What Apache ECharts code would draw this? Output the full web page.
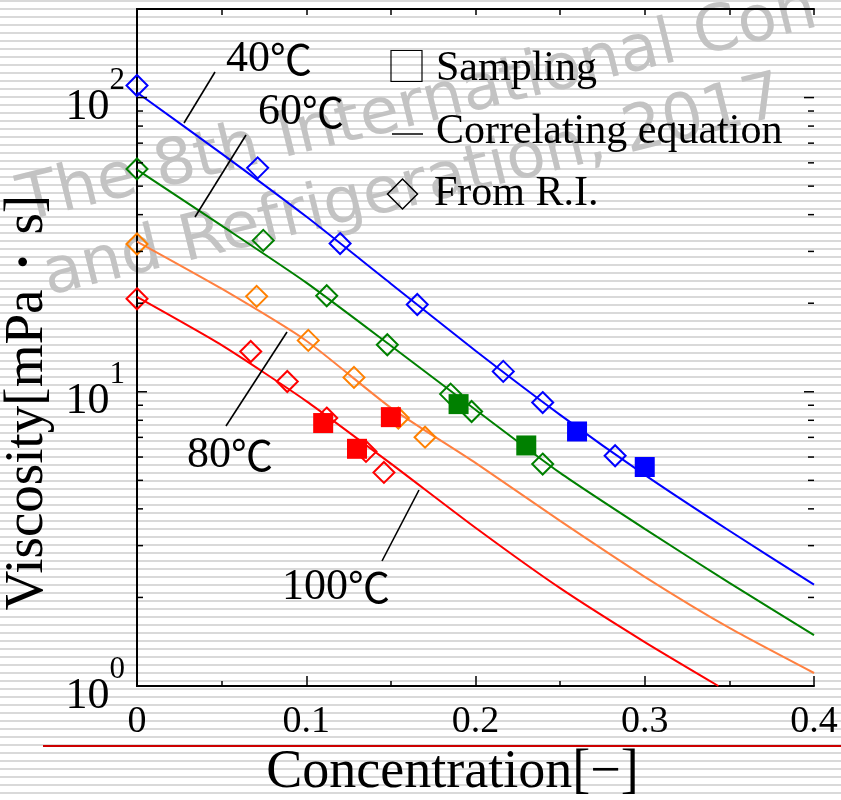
<!DOCTYPE html>
<html>
<head>
<meta charset="utf-8">
<script src="https://cdn.jsdelivr.net/npm/echarts@6/dist/echarts.min.js"></script>
<style>
  html, body { margin: 0; padding: 0; }
  #chart {
    width: 841px; height: 800px;
    background: repeating-linear-gradient(to bottom, #d9d9d9 0px, #d9d9d9 2px, #ffffff 2px, #ffffff 8px);
  }
</style>
</head>
<body>
<div id="chart"></div>
<script>
// Correlating equation curves, sampled along concentration
const curveConc = [0, 0.05, 0.10, 0.15, 0.20, 0.25, 0.30, 0.35, 0.40];
const curve40 = [104.0, 64.5, 39.4, 23.3, 13.79, 8.35, 5.22, 3.37, 2.21];
const curve60 = [56.9, 36.7, 23.5, 14.34, 8.69, 5.30, 3.42, 2.24, 1.49];
const curve80 = [32.4, 22.4, 14.91, 8.82, 5.73, 3.64, 2.35, 1.575, 1.107];
const curve100Conc = [0, 0.05, 0.10, 0.15, 0.20, 0.25, 0.30, 0.3435];
const curve100 = [21.0, 14.4, 9.30, 5.70, 3.45, 2.15, 1.41, 1.0];

// Values estimated from refractive index (R.I.)
const ri40Conc = [0, 0.0713, 0.120, 0.1656, 0.2164, 0.2397, 0.2825];
const ri40Visc = [109.9, 57.7, 31.9, 19.8, 11.73, 9.19, 6.06];
const ri60Conc = [0, 0.0746, 0.1121, 0.1479, 0.1853, 0.1977, 0.2397];
const ri60Visc = [57.2, 32.7, 21.2, 14.45, 9.82, 8.57, 5.68];
const ri80Conc = [0, 0.0707, 0.1012, 0.1282, 0.1544, 0.1702];
const ri80Visc = [31.8, 21.1, 14.95, 11.19, 8.14, 7.01];
const ri100Conc = [0, 0.0672, 0.0888, 0.1121, 0.1353, 0.1459];
const ri100Visc = [20.7, 13.71, 10.84, 8.14, 6.27, 5.32];

// Sampled (measured) values
const samp40Conc = [0.26, 0.30];
const samp40Visc = [7.33, 5.55];
const samp60Conc = [0.19, 0.23];
const samp60Visc = [9.08, 6.57];
const samp100Conc = [0.11, 0.13, 0.15];
const samp100Visc = [7.83, 6.40, 8.20];

// Axis ticks
const xTicks = [0, 0.1, 0.2, 0.3, 0.4];
const yMajorTicks = [1, 10, 100];
const yMinorTicks = [2, 3, 4, 5, 6, 7, 8, 9, 20, 30, 40, 50, 60, 70, 80, 90];

const tempNames = ['40℃', '60℃', '80℃', '100℃'];
const legendNames = ['Sampling', 'Correlating equation', 'From R.I.'];

const C40 = '#0000ff', C60 = '#008000', C80 = '#ff8000', C80L = '#ff8040', C100 = '#ff0000';
const SERIF = '"Liberation Serif", "Times New Roman", serif';
const CJK = '"Noto Sans CJK JP", "DejaVu Sans", sans-serif';

const zip = (xs, ys) => xs.map((x, i) => [x, ys[i]]);

function curve(name, xs, ys, color) {
  return {
    name, type: 'line', data: zip(xs, ys), smooth: 0.2, showSymbol: false,
    lineStyle: { color, width: 2 }, z: 2, silent: true
  };
}
function diamonds(name, xs, ys, color) {
  return {
    name, type: 'scatter', data: zip(xs, ys), symbol: 'diamond', symbolSize: 21,
    itemStyle: { color: 'rgba(0,0,0,0)', borderColor: color, borderWidth: 2, opacity: 1 }, z: 3, silent: true
  };
}
function squares(name, xs, ys, color) {
  return {
    name, type: 'scatter', data: zip(xs, ys), symbol: 'rect', symbolSize: 20,
    itemStyle: { color, opacity: 1 }, z: 4, silent: true
  };
}

const axisBlack = { lineStyle: { color: '#000', width: 2 } };

const chart = echarts.init(document.getElementById('chart'), null, { renderer: 'canvas' });

function tempLabel(text, left, baseline) {
  const m = text.match(/^(\d+)(.*)$/);
  return {
    type: 'text', x: left, y: baseline - 13, z: 50,
    style: {
      text: '{n|' + m[1] + '}{c|' + m[2] + '}',
      align: 'left', verticalAlign: 'middle',
      rich: {
        n: { fontFamily: SERIF, fontSize: 44, fill: '#000', lineHeight: 44 },
        c: { fontFamily: CJK, fontSize: 42, fill: '#000', lineHeight: 44 }
      }
    }
  };
}
function leader(x1, y1, x2, y2) {
  return { type: 'line', z: 50, shape: { x1, y1, x2, y2 }, style: { stroke: '#000', lineWidth: 1.6 } };
}
function legendText(text, left, baseline) {
  return {
    type: 'text', x: left, y: baseline - 13, z: 50,
    style: { text, fontFamily: SERIF, fontSize: 42, fill: '#000', align: 'left', verticalAlign: 'middle' }
  };
}
const isDecade = v => Math.abs(Math.log10(v) - Math.round(Math.log10(v))) < 1e-6;

const option = {
  animation: false,
  backgroundColor: 'transparent',
  grid: { left: 137, right: 27, top: 9, bottom: 114, outerBoundsMode: 'none', containLabel: false },
  xAxis: [
    {
      type: 'value', min: 0, max: 0.4, interval: 0.1, position: 'bottom',
      axisLine: axisBlack,
      axisTick: { inside: true, length: 10, lineStyle: { color: '#000', width: 1.5 } },
      minorTick: { show: true, splitNumber: 2, length: 5, lineStyle: { color: '#000', width: 1.5 } },
      splitLine: { show: false },
      axisLabel: {
        color: '#000', fontFamily: SERIF, fontSize: 38, margin: 17,
        formatter: v => { const t = xTicks.find(k => Math.abs(k - v) < 1e-9); return t === undefined ? '' : (t === 0 ? '0' : t.toFixed(1)); }
      },
      name: 'Concentration[−]', nameLocation: 'middle', nameGap: 60,
      nameTextStyle: { color: '#000', fontFamily: SERIF, fontSize: 54, padding: [0, 46, 0, 0] }
    },
    {
      type: 'value', min: 0, max: 0.4, interval: 0.05, position: 'top',
      axisLine: axisBlack,
      axisTick: { inside: true, length: 6, lineStyle: { color: '#000', width: 1.5 } },
      axisLabel: { show: false }, splitLine: { show: false }
    }
  ],
  yAxis: [
    {
      type: 'log', logBase: 10, min: 1, max: 200, position: 'left',
      axisLine: axisBlack,
      axisTick: { show: false },
      splitLine: { show: false },
      axisLabel: {
        margin: 12,
        formatter: v => isDecade(v) ? '{b|10}{s|' + Math.round(Math.log10(v)) + '}' : '',
        rich: {
          b: { fontFamily: SERIF, fontSize: 44, color: '#000', lineHeight: 64, verticalAlign: 'bottom' },
          s: { fontFamily: SERIF, fontSize: 31, color: '#000', lineHeight: 31, verticalAlign: 'top' }
        }
      },
      name: 'Viscosity[mPa・s]', nameLocation: 'middle', nameGap: 68, nameRotate: 90,
      nameTextStyle: { color: '#000', fontFamily: SERIF, fontSize: 55, padding: [0, 110, 0, 0] }
    },
    {
      type: 'log', logBase: 10, min: 1, max: 200, position: 'right',
      axisLine: axisBlack,
      axisTick: { show: false },
      axisLabel: { show: false }, splitLine: { show: false }
    }
  ],
  series: [
    curve('curve100', curve100Conc, curve100, C100),
    curve('curve80', curveConc, curve80, C80L),
    curve('curve60', curveConc, curve60, C60),
    curve('curve40', curveConc, curve40, C40),
    diamonds('ri100', ri100Conc, ri100Visc, C100),
    diamonds('ri80', ri80Conc, ri80Visc, C80),
    diamonds('ri60', ri60Conc, ri60Visc, C60),
    diamonds('ri40', ri40Conc, ri40Visc, C40),
    squares('samp100', samp100Conc, samp100Visc, C100),
    squares('samp60', samp60Conc, samp60Visc, C60),
    squares('samp40', samp40Conc, samp40Visc, C40),
    {
      // log-scale ticks on the left and right frame (decades long, others short)
      name: 'logTicks', type: 'custom', silent: true, z: 5,
      data: yMajorTicks.concat(yMinorTicks).map(v => [0, v]),
      renderItem: (params, api) => {
        const v = api.value(1);
        const p = api.coord([0, v]);
        const cs = params.coordSys;
        const len = isDecade(v) ? 10 : 6;
        const st = { stroke: '#000', lineWidth: 1.5 };
        return {
          type: 'group', children: [
            { type: 'line', shape: { x1: cs.x, y1: p[1], x2: cs.x + len, y2: p[1] }, style: st },
            { type: 'line', shape: { x1: cs.x + cs.width - len, y1: p[1], x2: cs.x + cs.width, y2: p[1] }, style: st }
          ]
        };
      }
    }
  ],
  graphic: [
    // conference watermark
    {
      type: 'group', z: -10, silent: true,
      children: [
        { type: 'text', x: 28, y: 236, rotation: 13.8 * Math.PI / 180, z: -10,
          style: { text: 'The 8th International Con', fontFamily: '"DejaVu Sans", sans-serif', fontSize: 64, fill: '#c3c3c3', align: 'left', verticalAlign: 'bottom' } },
        { type: 'text', x: 52, y: 310, rotation: 13.8 * Math.PI / 180, z: -10,
          style: { text: 'and Refrigeration, 2017', fontFamily: '"DejaVu Sans", sans-serif', fontSize: 64, fill: '#c3c3c3', align: 'left', verticalAlign: 'bottom' } }
      ]
    },
    // red rule under the tick labels
    { type: 'line', shape: { x1: 43, y1: 746, x2: 841, y2: 746 }, style: { stroke: '#cc0000', lineWidth: 2 }, z: 1 },
    // legend
    { type: 'rect', z: 50, shape: { x: 391, y: 50.5, width: 31, height: 31 }, style: { fill: 'rgba(0,0,0,0)', stroke: '#000', lineWidth: 1.2 } },
    { type: 'line', z: 50, shape: { x1: 392, y1: 134, x2: 423, y2: 134 }, style: { stroke: '#000', lineWidth: 1.5 } },
    { type: 'polygon', z: 50, shape: { points: [[402.5, 179], [417.5, 194], [402.5, 209], [387.5, 194]] }, style: { fill: 'rgba(0,0,0,0)', stroke: '#000', lineWidth: 1.5 } },
    legendText(legendNames[0], 436, 82),
    legendText(legendNames[1], 436, 145),
    legendText(legendNames[2], 434, 207),
    // temperature call-outs
    leader(215, 72, 184, 123), tempLabel(tempNames[0], 226, 72),
    leader(246, 135, 195, 217), tempLabel(tempNames[1], 258, 125),
    leader(287, 332, 226, 426), tempLabel(tempNames[2], 187, 468),
    leader(419, 490, 382, 561), tempLabel(tempNames[3], 282, 600)
  ]
};

chart.setOption(option);
</script>
</body>
</html>
